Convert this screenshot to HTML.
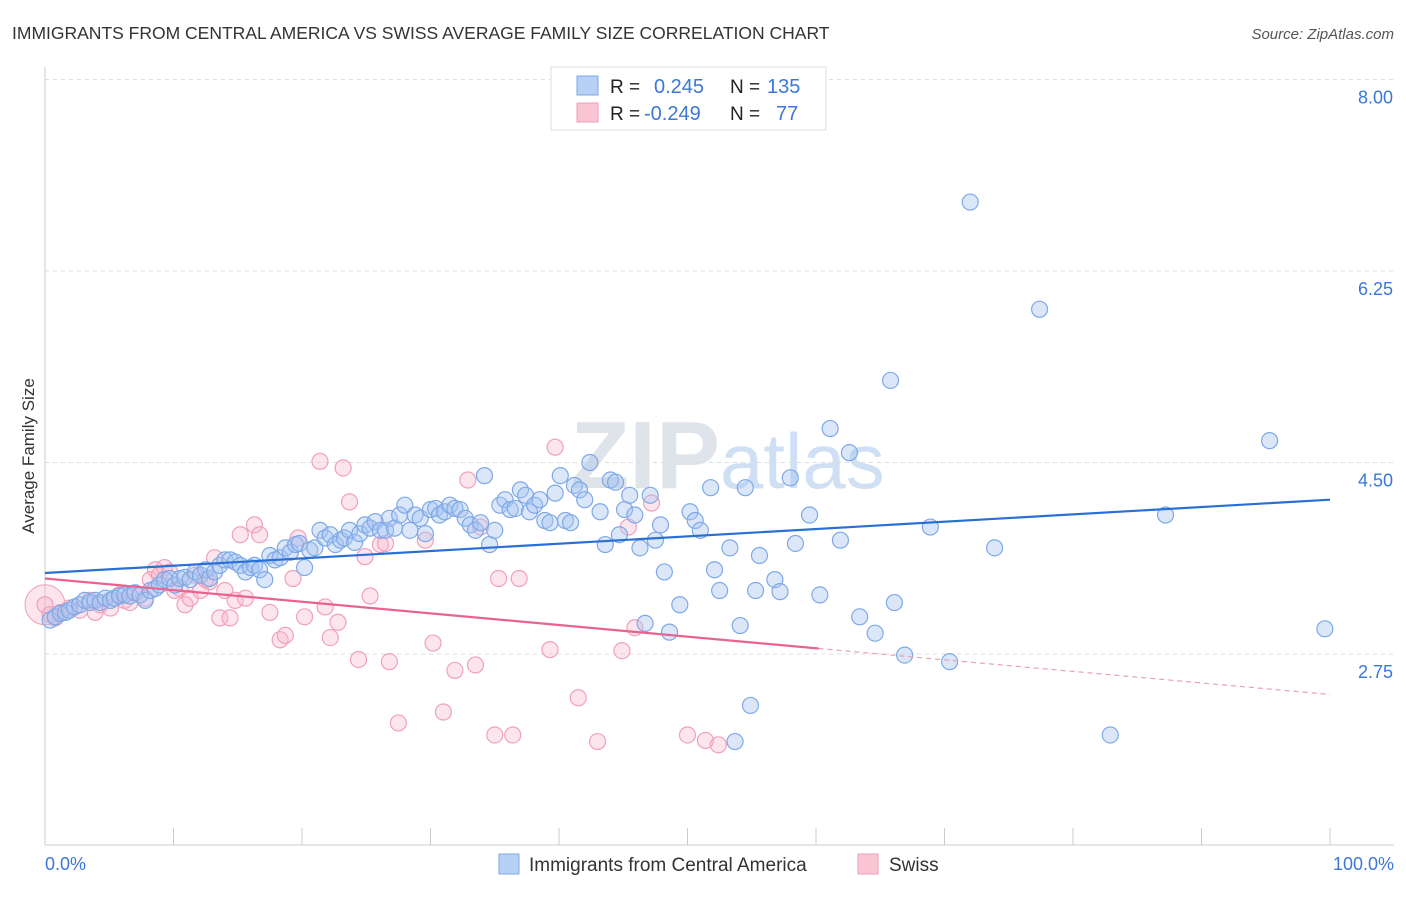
<!DOCTYPE html>
<html><head><meta charset="utf-8">
<style>
body{margin:0;background:#fff;font-family:"Liberation Sans",sans-serif;}
svg text{font-family:"Liberation Sans",sans-serif;}
</style></head>
<body>
<svg id="chart" width="1406" height="892">
<text x="12" y="39" font-size="17.5" fill="#333">IMMIGRANTS FROM CENTRAL AMERICA VS SWISS AVERAGE FAMILY SIZE CORRELATION CHART</text>
<text x="1394" y="39" font-size="15" fill="#555" font-style="italic" text-anchor="end">Source: ZipAtlas.com</text>
<text x="720" y="488" font-size="96" fill="#dfe3ea" text-anchor="end" font-family="Liberation Serif" font-weight="bold">ZIP</text>
<text x="720" y="488" font-size="78" fill="#cfe0f5">atlas</text>
<g id="grid"></g>
<g id="axes"></g>
<g id="pts"></g>
<g id="trend"></g>
<text transform="translate(34,456) rotate(-90)" font-size="17" fill="#333" text-anchor="middle">Average Family Size</text>
<text x="45" y="870" font-size="18" fill="#3a78d8">0.0%</text>
<text x="1394" y="870" font-size="18" fill="#3a78d8" text-anchor="end">100.0%</text>
<g>
<rect x="551" y="67" width="275" height="63" fill="#fff" stroke="#ddd"/>
<rect x="577" y="76" width="21" height="19" fill="#b7d0f5" stroke="#7ea9e8"/>
<rect x="577" y="103" width="21" height="19" fill="#f9c5d5" stroke="#f0a0bb"/>
<text x="610" y="93" font-size="19" fill="#222">R =</text>
<text x="654" y="93" font-size="20" fill="#3a78d8">0.245</text>
<text x="730" y="93" font-size="19" fill="#222">N =</text>
<text x="767" y="93" font-size="20" fill="#3a78d8">135</text>
<text x="610" y="120" font-size="19" fill="#222">R =</text>
<text x="644" y="120" font-size="20" fill="#3a78d8">-0.249</text>
<text x="730" y="120" font-size="19" fill="#222">N =</text>
<text x="776" y="120" font-size="20" fill="#3a78d8">77</text>
</g>
<g>
<rect x="499" y="854" width="20" height="20" fill="#b7d0f5" stroke="#7ea9e8"/>
<text x="529" y="871" font-size="19" fill="#333">Immigrants from Central America</text>
<rect x="858" y="854" width="20" height="20" fill="#f9c5d5" stroke="#f0a0bb"/>
<text x="889" y="871" font-size="19" fill="#333">Swiss</text>
</g>
</svg>
<script>
const yTicks=[2.75,4.50,6.25,8.00];
const yTickLabels=["2.75","4.50","6.25","8.00"];
const xTicks=[0,10,20,30,40,50,60,70,80,90,100];
const blueX=[0.4,0.8,1.2,1.6,1.9,2.3,2.7,3.1,3.5,3.9,4.3,4.7,5.1,5.4,5.8,6.2,6.6,7.0,7.4,7.8,8.2,8.6,8.9,9.3,9.7,10.1,10.5,10.9,11.3,11.7,12.1,12.5,12.8,13.2,13.6,14.0,14.4,14.8,15.2,15.6,16.0,16.3,16.7,17.1,17.5,17.9,18.3,18.7,19.1,19.5,19.8,20.2,20.6,21.0,21.4,21.8,22.2,22.6,23.0,23.3,23.7,24.1,24.5,24.9,25.3,25.7,26.1,26.5,26.8,27.2,27.6,28.0,28.4,28.8,29.2,29.6,30.0,30.4,30.7,31.1,31.5,31.9,32.3,32.7,33.1,33.5,33.9,34.2,34.6,35.0,35.4,35.8,36.2,36.6,37.0,37.4,37.7,38.1,38.5,38.9,39.3,39.7,40.1,40.5,40.9,41.2,41.6,42.0,42.4,43.2,43.6,44.0,44.4,44.7,45.1,45.5,45.9,46.3,46.7,47.1,47.5,47.9,48.2,48.6,49.4,50.2,50.6,51.0,51.8,52.1,52.5,53.3,53.7,54.1,54.5,54.9,55.3,55.6,56.8,57.2,58.0,58.4,59.5,60.3,61.1,61.9,62.6,63.4,64.6,65.8,66.1,66.9,68.9,70.4,72.0,73.9,77.4,82.9,87.2,95.3,99.6];
const blueY=[3.06,3.09,3.12,3.13,3.15,3.18,3.20,3.24,3.22,3.24,3.22,3.26,3.24,3.26,3.28,3.29,3.28,3.31,3.29,3.24,3.33,3.35,3.38,3.43,3.44,3.38,3.44,3.45,3.43,3.50,3.47,3.52,3.44,3.50,3.56,3.61,3.61,3.59,3.56,3.50,3.54,3.56,3.52,3.43,3.65,3.61,3.63,3.72,3.68,3.75,3.76,3.54,3.70,3.72,3.88,3.81,3.84,3.75,3.79,3.81,3.88,3.77,3.85,3.93,3.90,3.96,3.88,3.88,3.99,3.90,4.02,4.11,3.88,4.02,3.99,3.85,4.07,4.08,4.02,4.05,4.11,4.08,4.07,3.99,3.93,3.88,3.95,4.38,3.75,3.88,4.11,4.16,4.07,4.08,4.25,4.20,4.05,4.11,4.16,3.97,3.95,4.22,4.38,3.97,3.95,4.29,4.25,4.16,4.50,4.05,3.75,4.34,4.32,3.84,4.07,4.20,4.02,3.72,3.03,4.20,3.79,3.93,3.50,2.95,3.20,4.05,3.97,3.88,4.27,3.52,3.33,3.72,1.95,3.01,4.27,2.28,3.33,3.65,3.43,3.32,4.36,3.76,4.02,3.29,4.81,3.79,4.59,3.09,2.94,5.25,3.22,2.74,3.91,2.68,6.88,3.72,5.90,2.01,4.02,4.70,2.98];
const pinkX=[0,0.4,0.8,1.2,1.9,2.7,3.5,3.9,4.3,5.1,5.4,5.8,6.2,6.6,7.4,7.8,8.2,8.6,8.9,9.3,9.7,10.1,10.5,10.9,11.3,11.7,12.1,12.5,12.8,13.2,13.6,14.0,14.4,14.8,15.2,15.6,16.3,16.7,17.5,18.3,18.7,19.3,19.7,20.2,21.4,21.8,22.2,22.8,23.2,23.7,24.4,24.9,25.3,26.1,26.5,26.8,27.5,29.6,30.2,31.0,31.9,32.9,33.5,33.9,35.0,35.3,36.4,36.9,39.3,39.7,41.5,43.0,44.9,45.4,45.9,47.2,50.0,51.4,52.4];
const pinkY=[3.20,3.11,3.08,3.13,3.17,3.15,3.24,3.13,3.20,3.17,3.26,3.29,3.24,3.22,3.29,3.26,3.43,3.52,3.47,3.54,3.50,3.33,3.35,3.20,3.26,3.47,3.33,3.43,3.41,3.63,3.08,3.33,3.08,3.24,3.84,3.26,3.93,3.84,3.13,2.88,2.92,3.44,3.81,3.09,4.51,3.18,2.90,3.04,4.45,4.14,2.70,3.64,3.28,3.75,3.76,2.68,2.12,3.79,2.85,2.22,2.60,4.34,2.65,3.91,2.01,3.44,2.01,3.44,2.79,4.64,2.35,1.95,2.78,3.91,2.99,4.13,2.01,1.96,1.92];
const blueTrendX=[0,100], blueTrendY=[3.49,4.16];
const pinkTrendX=[0,60.2,100], pinkTrendY=[3.44,2.80,2.38];

const NS="http://www.w3.org/2000/svg";
const X=v=>45+v*12.85;
const Y=v=>654-(v-2.75)*109.43;
function mk(tag,attrs,parent){const e=document.createElementNS(NS,tag);for(const k in attrs)e.setAttribute(k,attrs[k]);document.getElementById(parent).appendChild(e);return e;}
yTicks.forEach((t,i)=>{
  const g=mk('line',{x1:45,x2:1394,y1:Y(t),y2:Y(t),stroke:'#ddd','stroke-dasharray':'4,4'},'grid');
  
  
  const l=mk('text',{x:1393,y:Y(t)+24,'font-size':18,fill:'#3a78d8','text-anchor':'end'},'grid');
  l.textContent=yTickLabels[i];
  
  
});
const ax=mk('line',{x1:45,x2:45,y1:67,y2:845,stroke:'#ccc'},'axes');


const bx=mk('line',{x1:45,x2:1394,y1:845,y2:845,stroke:'#ccc'},'axes');


xTicks.forEach(t=>{
  const tk=mk('line',{x1:X(t),x2:X(t),y1:828,y2:845,stroke:'#ccc'},'axes');
  
  
});
const bigP=mk('circle',{cx:X(0),cy:Y(3.20),r:20,fill:'rgba(245,170,195,0.3)',stroke:'#f0a0bb'},'pts');


pinkX.forEach((x,i)=>{
  const c=mk('circle',{cx:X(x),cy:Y(pinkY[i]),r:8,fill:'rgba(248,180,202,0.35)',stroke:'#f0a0bb','stroke-width':1.2},'pts');
  
  
});
blueX.forEach((x,i)=>{
  const c=mk('circle',{cx:X(x),cy:Y(blueY[i]),r:8,fill:'rgba(165,195,240,0.4)',stroke:'#7ea9e8','stroke-width':1.2},'pts');
  
  
});
const bt=mk('line',{x1:X(blueTrendX[0]),y1:Y(blueTrendY[0]),x2:X(blueTrendX[1]),y2:Y(blueTrendY[1]),stroke:'#2a6fd6','stroke-width':2.2},'trend');


const pt=mk('line',{x1:X(pinkTrendX[0]),y1:Y(pinkTrendY[0]),x2:X(pinkTrendX[1]),y2:Y(pinkTrendY[1]),stroke:'#e8638f','stroke-width':2.2},'trend');


const pd=mk('line',{x1:X(pinkTrendX[1]),y1:Y(pinkTrendY[1]),x2:X(pinkTrendX[2]),y2:Y(pinkTrendY[2]),stroke:'#e8a0b8','stroke-width':1.2,'stroke-dasharray':'5,4'},'trend');


</script>
</body></html>
